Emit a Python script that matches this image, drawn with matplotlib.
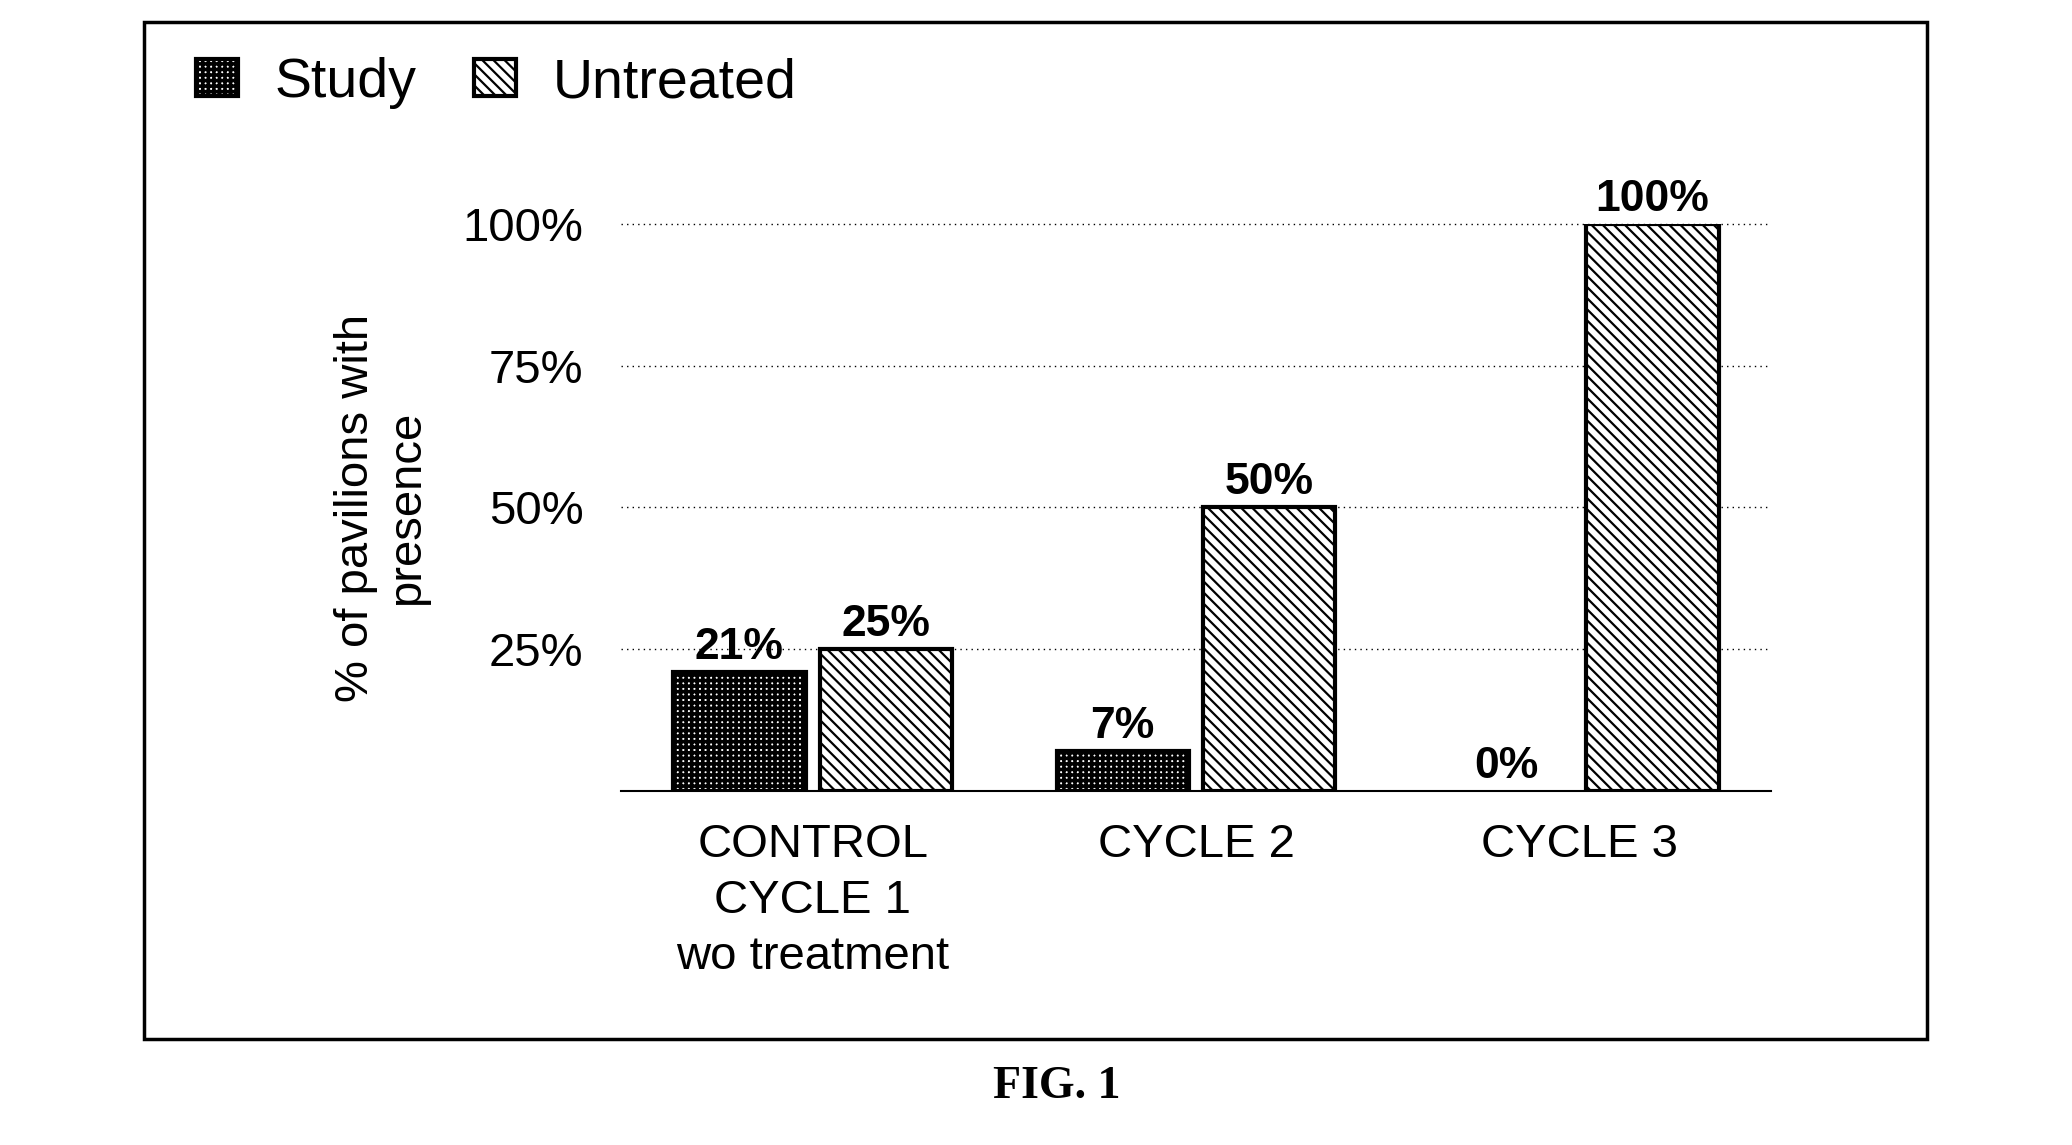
import numpy as np
import matplotlib
matplotlib.use('Agg')
import matplotlib.pyplot as plt
from matplotlib.patches import Rectangle

# data
categories = ['CONTROL\nCYCLE 1\nwo treatment', 'CYCLE 2', 'CYCLE 3']
study = [21, 7, 0] #% of pavilions, study group
untreated = [25, 50, 100] #% of pavilions, untreated group
yticks = [25, 50, 75, 100]
ytick_labels = ['25%', '50%', '75%', '100%']
series_names = ['Study', 'Untreated']

plt.rcParams['font.family'] = 'Liberation Sans'
plt.rcParams['hatch.linewidth'] = 1.6

fig = plt.figure(figsize=(20.72, 11.45), dpi=100)
ax = fig.add_axes([0.2997, 0.3092, 0.555, 0.4952])

x = np.arange(len(categories))
w = 0.345 #bar width
off = 0.191 #half distance between bar centres

b1 = ax.bar(x - off, study, w, facecolor='white', edgecolor='black', linewidth=3, hatch='+++', label=series_names[0], zorder=3)
b2 = ax.bar(x + off, untreated, w, facecolor='white', edgecolor='black', linewidth=3, hatch='\\\\\\', label=series_names[1], zorder=3)
for p in list(b1) + list(b2):
	if p.get_height() == 0:
		p.set_linewidth(0) #empty bar, only the label shows
# thicker hatch for the dotted study bars if the version allows it
if hasattr(b1[0], 'set_hatch_linewidth'):
	for p in b1:
		p.set_hatch_linewidth(2.6)

# value labels above bars
ax.bar_label(b1, labels=[f'{v}%' for v in study], padding=3, fontsize=32, fontweight='bold')
ax.bar_label(b2, labels=[f'{v}%' for v in untreated], padding=3, fontsize=32, fontweight='bold')

ax.set_xlim(-0.5, 2.5)
ax.set_ylim(0, 100)
ax.set_xticks(x)
ax.set_xticklabels(categories, fontsize=34, linespacing=1.36)
ax.set_yticks(yticks)
ax.set_yticklabels(ytick_labels, fontsize=34)
ax.tick_params(axis='y', length=0, pad=27)
ax.tick_params(axis='x', length=0, pad=23)

# dotted grid
ax.yaxis.grid(True, linestyle=(0, (1, 3)), color='black', linewidth=1.0)
ax.set_axisbelow(True)
for gl in ax.get_ygridlines():
	gl.set_clip_on(False)

for s in ['left', 'right', 'top']:
	ax.spines[s].set_visible(False)
ax.spines['bottom'].set_linewidth(1.5)

ax.set_ylabel('% of pavilions with\npresence', fontsize=34)
ax.yaxis.set_label_coords(-0.167, 0.5)

# legend in the top-left corner of the frame
leg = fig.legend(handles=[b1, b2], loc='center left', bbox_to_anchor=(196/2072, 1-83/1145), ncol=2, frameon=False,
	fontsize=40, borderpad=0, borderaxespad=0, handlelength=0.76, handleheight=0.67,
	handletextpad=0.65, columnspacing=1.04)
if hasattr(leg.legend_handles[0], 'set_hatch_linewidth'):
	leg.legend_handles[0].set_hatch_linewidth(2.6)

# outer frame
fig.add_artist(Rectangle((144/2072, 1-1039/1145), (1927-144)/2072, (1039-22)/1145,
	transform=fig.transFigure, fill=False, edgecolor='black', linewidth=2.5))

fig.text(0.510, 0.0507, 'FIG. 1', family='Liberation Serif', fontweight='bold', fontsize=33, ha='center', va='center')

plt.savefig('out.png', dpi=100)
